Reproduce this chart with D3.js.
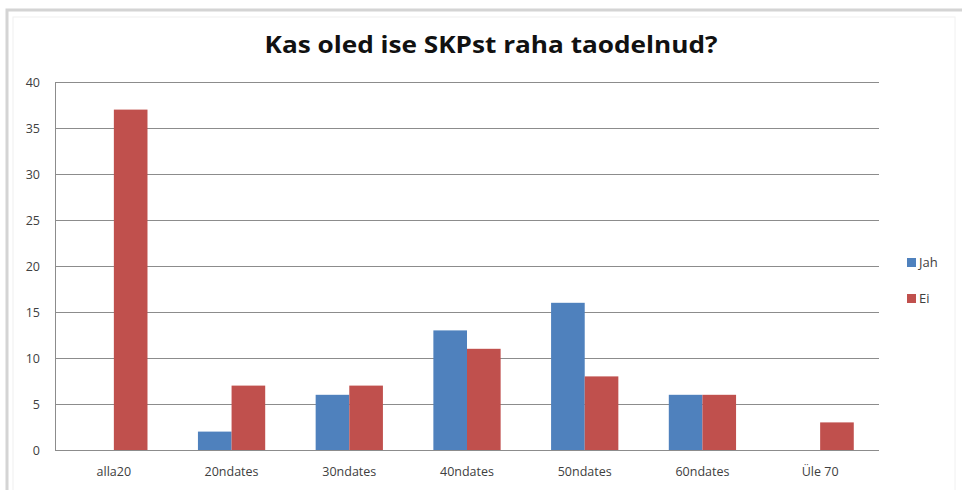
<!DOCTYPE html>
<html>
<head>
<meta charset="utf-8">
<script src="https://cdn.jsdelivr.net/npm/d3@7"></script>
<style>
  html, body { margin: 0; padding: 0; background: #fff; }
  svg { display: block; }
</style>
</head>
<body>
<svg id="chart" width="962" height="490"></svg>
<script>
const title = "Kas oled ise SKPst raha taodelnud?";
const categories = ["alla20", "20ndates", "30ndates", "40ndates", "50ndates", "60ndates", "Üle 70"];
const seriesNames = ["Jah", "Ei"];
const jah = [0, 2, 6, 13, 16, 6, 0];
const ei = [37, 7, 7, 11, 8, 6, 3];
const yTicks = [0, 5, 10, 15, 20, 25, 30, 35, 40];
const colors = ["#4F81BD", "#C0504D"];

const svg = d3.select("#chart");
const W = 962, H = 490;

// outer chart frame with soft shadow
svg.append("rect").attr("x", 7).attr("y", 10).attr("width", 970).attr("height", 500)
  .attr("fill", "none").attr("stroke", "#d4d4d4").attr("stroke-width", 3);
svg.append("rect").attr("x", 13).attr("y", 17).attr("width", 942).attr("height", 490)
  .attr("fill", "#fff").attr("stroke", "#f0f0f0").attr("stroke-width", 1);

const margin = { left: 55, right: 962 - 879, top: 82, bottom: 490 - 450 };
const x0 = d3.scaleBand().domain(categories).range([55, 879]).paddingInner(0).paddingOuter(0);
const y = d3.scaleLinear().domain([0, 40]).range([450, 82]);

// gridlines
svg.append("g").selectAll("line").data(yTicks).join("line")
  .attr("x1", 55).attr("x2", 879)
  .attr("y1", d => Math.round(y(d)) + 0.5).attr("y2", d => Math.round(y(d)) + 0.5)
  .attr("stroke", "#8c8c8c").attr("stroke-width", 1);

// left axis line
svg.append("line").attr("x1", 55.5).attr("x2", 55.5).attr("y1", y(40)).attr("y2", y(0) + 0.5)
  .attr("stroke", "#8c8c8c");

// bars
const bw = x0.bandwidth() / 3.5;
const groups = svg.append("g").selectAll("g").data(categories).join("g")
  .attr("transform", d => `translate(${x0(d) + x0.bandwidth() / 2 - bw},0)`);
const seriesData = [jah, ei];
seriesData.forEach((vals, si) => {
  groups.append("rect")
    .attr("x", si * bw)
    .attr("width", bw)
    .attr("y", (d, i) => y(vals[i]))
    .attr("height", (d, i) => y(0) - y(vals[i]))
    .attr("fill", colors[si]);
});

// y tick labels
svg.append("g").selectAll("text").data(yTicks).join("text")
  .attr("x", 40).attr("y", d => y(d) + 4.5)
  .attr("text-anchor", "end")
  .attr("font-family", "'Open Sans', 'DejaVu Sans', sans-serif")
  .attr("font-size", 12.5).attr("fill", "#404040")
  .text(d => d);

// x labels
svg.append("g").selectAll("text").data(categories).join("text")
  .attr("x", d => x0(d) + x0.bandwidth() / 2).attr("y", 476)
  .attr("text-anchor", "middle")
  .attr("font-family", "'Open Sans', 'DejaVu Sans', sans-serif")
  .attr("font-size", 12.5).attr("fill", "#404040")
  .text(d => d);

// title
svg.append("text").attr("x", 491).attr("y", 53)
  .attr("text-anchor", "middle")
  .attr("font-family", "'Open Sans', sans-serif").attr("font-weight", "bold")
  .attr("font-size", 24).attr("fill", "#111")
  .attr("textLength", 453).attr("lengthAdjust", "spacingAndGlyphs")
  .text(title);

// legend
const legend = svg.append("g").selectAll("g").data(seriesNames).join("g")
  .attr("transform", (d, i) => `translate(907,${258 + i * 36})`);
legend.append("rect").attr("width", 9).attr("height", 9).attr("fill", (d, i) => colors[i]);
legend.append("text").attr("x", 12).attr("y", 9)
  .attr("font-family", "'Open Sans', 'DejaVu Sans', sans-serif")
  .attr("font-size", 13).attr("fill", "#404040")
  .text(d => d);
</script>
</body>
</html>
